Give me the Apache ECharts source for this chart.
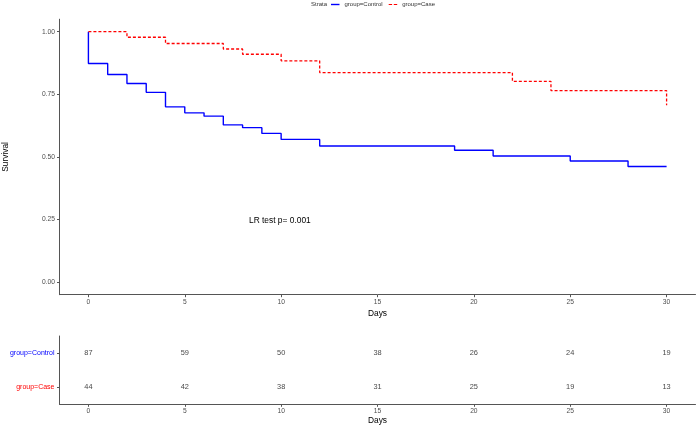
<!DOCTYPE html>
<html>
<head>
<meta charset="utf-8">
<script src="https://cdn.jsdelivr.net/npm/echarts@6/dist/echarts.min.js"></script>
<style>html,body{margin:0;padding:0;background:#fff}#c{width:696px;height:426px}</style>
</head>
<body>
<div id="c"></div>
<script>
// Kaplan-Meier step points (time, survival)
var controlTimes = [0, 0, 1, 2, 3, 4, 5, 6, 7, 8, 9, 10, 12, 19, 21, 25, 28, 30];
var controlSurv  = [1, 0.873, 0.829, 0.793, 0.758, 0.700, 0.676, 0.663, 0.628, 0.617, 0.594, 0.570, 0.544, 0.527, 0.504, 0.484, 0.462, 0.462];
var caseTimes = [0, 2, 4, 7, 8, 10, 12, 22, 24, 30, 30];
var caseSurv  = [1, 0.978, 0.953, 0.931, 0.910, 0.884, 0.837, 0.802, 0.765, 0.765, 0.706];
// Numbers at risk table
var riskDays = [0, 5, 10, 15, 20, 25, 30];
var riskControl = [87, 59, 50, 38, 26, 24, 19];
var riskCase = [44, 42, 38, 31, 25, 19, 13];
var strata = ['group=Case', 'group=Control'];
var xTicks = [0, 5, 10, 15, 20, 25, 30];
var yTicks = [0, 0.25, 0.5, 0.75, 1];

var FONT = 'Liberation Sans, Arial, sans-serif';
var AX = '#555';
var TXT = '#4d4d4d';
function zip(a, b) { return a.map(function (v, i) { return [v, b[i]]; }); }

var chart = echarts.init(document.getElementById('c'), null, {renderer: 'canvas'});
function xAxisCfg(gi) {
  return {
    type: 'value', gridIndex: gi, min: -1.5, max: 31.5,
    name: 'Days', nameLocation: 'middle', nameGap: 12.5,
    nameTextStyle: {fontFamily: FONT, fontSize: 8.4, color: '#000'},
    axisLine: {show: true, onZero: false, lineStyle: {color: AX, width: 1}},
    axisTick: {show: true, length: 2.5, customValues: xTicks, lineStyle: {color: AX}},
    axisLabel: {customValues: xTicks, margin: 3.5, fontFamily: FONT, fontSize: 6.7, color: TXT},
    splitLine: {show: false}
  };
}
chart.setOption({
  animation: false,
  backgroundColor: '#fff',
  textStyle: {fontFamily: FONT},
  grid: [
    {left: 59.5, right: 0.5, top: 19.2, height: 275.5, containLabel: false, outerBoundsMode: 'none'},
    {left: 59.5, right: 0.5, top: 336, height: 68.3, containLabel: false, outerBoundsMode: 'none'}
  ],
  legend: {
    left: 331, top: 1.5, padding: 0, itemWidth: 8.5, itemHeight: 1.4, itemGap: 6,
    textStyle: {fontFamily: FONT, fontSize: 6, color: '#333'},
    data: [
      {name: 'group=Control', icon: 'rect'},
      {name: 'group=Case', icon: 'path://M0,0H3V1H0Z M4.5,0H7.5V1H4.5Z'}
    ]
  },
  graphic: [
    {type: 'text', left: 311, top: 1.8, style: {text: 'Strata', fontFamily: FONT, fontSize: 6, fill: '#333'}},
    {type: 'text', left: 249, top: 216.3, style: {text: 'LR test p= 0.001', fontFamily: FONT, fontSize: 8.4, fill: '#000'}}
  ],
  xAxis: [xAxisCfg(0), xAxisCfg(1)],
  yAxis: [
    {
      type: 'value', gridIndex: 0, min: -0.05, max: 1.05,
      name: 'Survival', nameLocation: 'middle', nameGap: 50, nameRotate: 90,
      nameTextStyle: {fontFamily: FONT, fontSize: 8.4, color: '#000'},
      axisLine: {show: true, onZero: false, lineStyle: {color: AX, width: 1}},
      axisTick: {show: true, length: 2.5, customValues: yTicks, lineStyle: {color: AX}},
      axisLabel: {customValues: yTicks, margin: 4.5, fontFamily: FONT, fontSize: 6.7, color: TXT,
        formatter: function (v) { return v.toFixed(2); }},
      splitLine: {show: false}
    },
    {
      type: 'category', gridIndex: 1, data: strata,
      name: 'Strata', nameLocation: 'middle', nameGap: 50, nameRotate: 90,
      nameTextStyle: {fontFamily: FONT, fontSize: 8.4, color: '#000'},
      axisLine: {show: true, onZero: false, lineStyle: {color: AX, width: 1}},
      axisTick: {show: true, length: 2.5, alignWithLabel: true, lineStyle: {color: AX}},
      axisLabel: {margin: 5, fontFamily: FONT, fontSize: 7,
        color: function (v) { return v === 'group=Control' ? '#0000FF' : '#FF0000'; }},
      splitLine: {show: false}
    }
  ],
  series: [
    {
      name: 'group=Control', type: 'line', step: 'end', xAxisIndex: 0, yAxisIndex: 0,
      symbol: 'none', data: zip(controlTimes, controlSurv),
      lineStyle: {color: '#0000FF', width: 1.4}, itemStyle: {color: '#0000FF'}
    },
    {
      name: 'group=Case', type: 'line', step: 'end', xAxisIndex: 0, yAxisIndex: 0,
      symbol: 'none', data: zip(caseTimes, caseSurv),
      lineStyle: {color: '#FF0000', width: 1.3, type: [3, 2]}, itemStyle: {color: '#FF0000'}
    },
    {
      type: 'scatter', xAxisIndex: 1, yAxisIndex: 1, symbolSize: 0, silent: true,
      data: riskDays.map(function (d, i) { return [d, 'group=Control', riskControl[i]]; }),
      label: {show: true, position: 'inside', fontFamily: FONT, fontSize: 7.4, color: '#111',
        formatter: function (p) { return String(p.data[2]); }}
    },
    {
      type: 'scatter', xAxisIndex: 1, yAxisIndex: 1, symbolSize: 0, silent: true,
      data: riskDays.map(function (d, i) { return [d, 'group=Case', riskCase[i]]; }),
      label: {show: true, position: 'inside', fontFamily: FONT, fontSize: 7.4, color: '#111',
        formatter: function (p) { return String(p.data[2]); }}
    }
  ]
});
</script>
</body>
</html>
